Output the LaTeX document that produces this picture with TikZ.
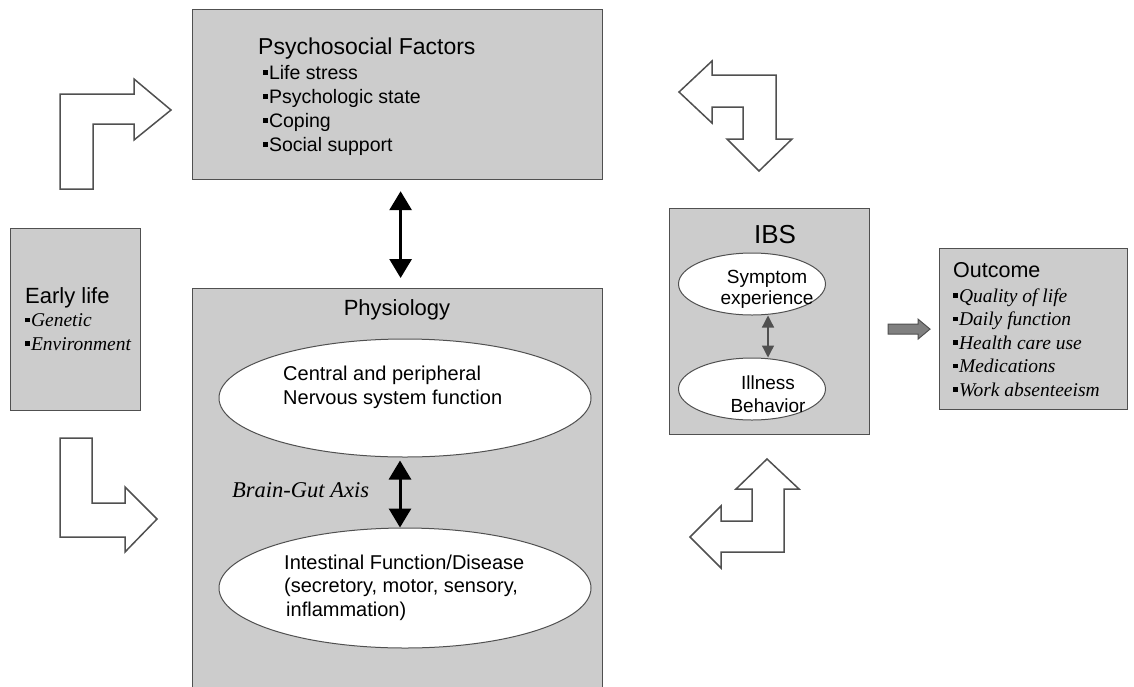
\documentclass[tikz,border=0pt]{standalone}
\usepackage{fontspec}
\setmainfont{Liberation Sans}
\newfontfamily\tmsfont{Liberation Serif}
\usetikzlibrary{shapes.geometric,arrows.meta}
\definecolor{boxgray}{HTML}{CCCCCC}
\definecolor{edgec}{HTML}{505050}
\definecolor{arrgray}{HTML}{808080}
\newcommand{\bul}{\rule[0.22em]{0.24em}{0.24em}\hspace{0.06em}}
\begin{document}
\begin{tikzpicture}[x=1pt,y=-1pt,
  box/.style={draw=edgec, fill=boxgray, line width=1.2pt, rectangle, inner sep=0pt, anchor=north west},
  oval/.style={ellipse, draw=edgec, fill=white, line width=1pt, inner sep=0pt},
  bent/.style={draw=edgec, fill=white, line width=1.5pt, line join=miter},
  grayarr/.style={draw=edgec, fill=arrgray, line width=1pt, line join=miter},
  txt/.style={inner sep=0pt, anchor=base west, align=left},
  ctxt/.style={inner sep=0pt, anchor=base, align=center},
  bigdbl/.style={line width=3pt, {Triangle[width=22pt,length=19pt]}-{Triangle[width=22pt,length=19pt]}},
  smalldbl/.style={line width=1.3pt, draw=edgec, {Triangle[width=12pt,length=12pt]}-{Triangle[width=12pt,length=12pt]}},
  ititem/.style={txt, font=\tmsfont\itshape\fontsize{19.5}{23.5}\selectfont}
]
\useasboundingbox (0,0) rectangle (1134,686);

% boxes
\node[box, minimum width=410pt, minimum height=170pt] (psy) at (192,9) {};
\node[box, minimum width=410pt, minimum height=420pt] (phys) at (192,288) {};
\node[box, minimum width=130pt, minimum height=182pt] (early) at (10,228) {};
\node[box, minimum width=200pt, minimum height=226pt] (ibs) at (669,208) {};
\node[box, minimum width=188pt, minimum height=161pt] (outc) at (939,248) {};

% ellipses
\node[oval, minimum width=372pt, minimum height=118pt] (cns) at (405,398) {};
\node[oval, minimum width=372pt, minimum height=120pt] (gut) at (405,588) {};
\node[oval, minimum width=147pt, minimum height=62pt] (sym) at (752,284) {};
\node[oval, minimum width=147pt, minimum height=62pt] (ill) at (752,389) {};

% texts (multi-line nodes: base = last line baseline)
\node[txt, font=\fontsize{23}{27}\selectfont] (psyt) at (258,54) {Psychosocial Factors};
\node[txt, font=\fontsize{19.5}{24}\selectfont] (psyl) at (263,151) {\bul Life stress\\ \bul Psychologic state\\ \bul Coping\\ \bul Social support};
\node[txt, font=\fontsize{22}{26}\selectfont] (earlyt) at (25,303) {Early life};
\node[ititem] (earlyl) at (25,350) {\bul Genetic\\ \bul Environment};
\node[ctxt, font=\fontsize{22}{26}\selectfont] (physt) at (397,315) {Physiology};
\node[txt, font=\fontsize{20}{24}\selectfont] (cnst) at (283,404) {Central and peripheral\\ Nervous system function};
\node[txt, font=\fontsize{20}{23.5}\selectfont] (gutt) at (284,616) {Intestinal Function/Disease\\ (secretory, motor, sensory,\\ \hspace*{2pt}inflammation)};
\node[txt, font=\tmsfont\itshape\fontsize{22.5}{26}\selectfont] (bga) at (232,497) {Brain-Gut Axis};
\node[ctxt, font=\fontsize{26}{30}\selectfont] (ibst) at (775,243) {IBS};
\node[ctxt, font=\fontsize{19}{21.5}\selectfont] (symt) at (767,304.5) {Symptom\\ experience};
\node[ctxt, font=\fontsize{19}{23}\selectfont] (illt) at (768,412) {Illness\\ Behavior};
\node[txt, font=\fontsize{21.5}{25}\selectfont] (outt) at (953,277) {Outcome};
\node[ititem] (outl) at (953,396) {\bul Quality of life\\ \bul Daily function\\ \bul Health care use\\ \bul Medications\\ \bul Work absenteeism};

% double arrows
\draw[bigdbl] ([xshift=3pt,yshift=-11pt]psy.south) -- ([xshift=3pt,yshift=10pt]phys.north);
\draw[bigdbl] ([xshift=-5pt,yshift=-3pt]cns.south) -- ([xshift=-5pt]gut.north);
\draw[smalldbl] ([xshift=16pt]sym.south) -- ([xshift=16pt]ill.north);

% gray arrow to outcome
\coordinate (gtip) at ([xshift=-9pt]outc.west);
\draw[grayarr] (gtip) -- ++(-12,-10) -- ++(0,5) -- ++(-30,0) -- ++(0,10) -- ++(30,0) -- ++(0,5) -- cycle;

% bent arrows
\draw[bent] (60,189) -- (60,94) -- (134,94) -- (134,79) -- (171,110) -- (134,140) -- (134,124) -- (93,124) -- (93,189) -- cycle;
\draw[bent] (60,438) -- (92,438) -- (92,503) -- (125,503) -- (125,487) -- (157,519) -- (125,552) -- (125,537) -- (60,537) -- cycle;
\draw[bent] (679,92) -- (712,61) -- (712,75) -- (776,75) -- (776,139) -- (792,139) -- (759,171) -- (727,139) -- (743,139) -- (743,107) -- (712,107) -- (712,123) -- cycle;
\draw[bent] (767,459) -- (799,489) -- (784,489) -- (784,552) -- (721,552) -- (721,568) -- (690,537) -- (721,506) -- (721,521) -- (752,521) -- (752,489) -- (736,489) -- cycle;
\end{tikzpicture}
\end{document}
